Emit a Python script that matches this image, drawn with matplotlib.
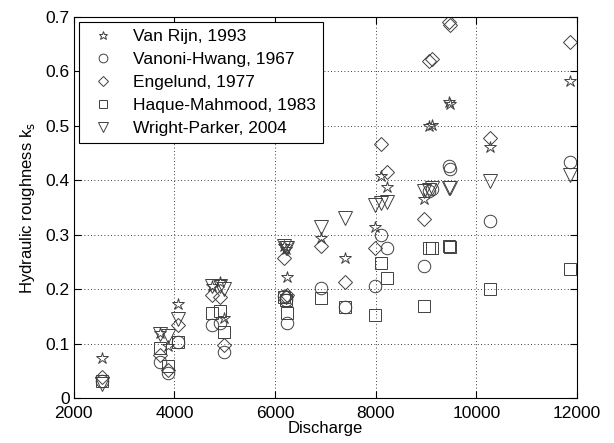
import matplotlib
matplotlib.use("Agg")
import matplotlib.pyplot as plt

plt.rcParams['font.family'] = ['Liberation Sans', 'DejaVu Sans']

# discharge of each measured event
discharge = [2560, 3720, 3880, 4080, 4750, 4910, 4990, 6180, 6210, 6240,
             6920, 7390, 7985, 8100, 8220, 8950, 9050, 9120, 9450, 9470,
             10270, 11860]

van_rijn = [0.073, 0.120, 0.095, 0.172, 0.205, 0.213, 0.147, 0.279, 0.274, 0.222,
            0.294, 0.257, 0.315, 0.408, 0.388, 0.365, 0.500, 0.502, 0.543, 0.540,
            0.462, 0.582]
vanoni_hwang = [0.032, 0.067, 0.045, 0.102, 0.134, 0.137, 0.085, 0.187, 0.180, 0.137,
                0.202, 0.168, 0.205, 0.300, 0.276, 0.242, 0.380, 0.384, 0.426, 0.420,
                0.325, 0.433]
engelund = [0.038, 0.079, 0.052, 0.134, 0.190, 0.186, 0.098, 0.257, 0.185, 0.190,
            0.279, 0.214, 0.276, 0.466, 0.415, 0.329, 0.620, 0.622, 0.691, 0.686,
            0.477, 0.654]
haque_mahmood = [0.032, 0.092, 0.058, 0.102, 0.156, 0.159, 0.122, 0.185, 0.180, 0.157,
                 0.184, 0.168, 0.153, 0.248, 0.220, 0.169, 0.276, 0.276, 0.279, 0.277,
                 0.200, 0.237]
wright_parker = [0.026, 0.118, 0.113, 0.145, 0.205, 0.206, 0.200, 0.280, 0.276, 0.275,
                 0.314, 0.331, 0.355, 0.359, 0.360, 0.380, 0.383, 0.385, 0.386, 0.386,
                 0.398, 0.410]

series = [
    ("Van Rijn, 1993", van_rijn, '*', 9),
    ("Vanoni-Hwang, 1967", vanoni_hwang, 'o', 9),
    ("Engelund, 1977", engelund, 'D', 7),
    ("Haque-Mahmood, 1983", haque_mahmood, 's', 8),
    ("Wright-Parker, 2004", wright_parker, 'v', 10),
]

fig = plt.figure(figsize=(6.14, 4.43), dpi=100)
ax = fig.add_axes([0.12, 0.1016, 0.82, 0.86])

for name, vals, m, ms in series:
    ax.plot(discharge, vals, linestyle='none', marker=m, markersize=ms,
            markerfacecolor='none', markeredgecolor='#404040',
            markeredgewidth=0.7, label=name)

ax.set_xlim(2000, 12000)
ax.set_ylim(0, 0.7)
ax.set_xticks([2000, 4000, 6000, 8000, 10000, 12000])
ax.set_yticks([0, 0.1, 0.2, 0.3, 0.4, 0.5, 0.6, 0.7])
ax.set_yticklabels(['0', '0.1', '0.2', '0.3', '0.4', '0.5', '0.6', '0.7'])
ax.grid(True, linestyle=(0, (1, 3)), color='black', linewidth=0.6)
ax.tick_params(direction='in', top=True, right=True, labelsize=12.5, length=5)
ax.tick_params(axis='x', pad=5.5)
ax.tick_params(axis='y', pad=3)
for s in ax.spines.values():
    s.set_linewidth(0.8)
ax.set_xlabel("Discharge", fontsize=12, labelpad=0)
ax.set_ylabel("Hydraulic roughness k$_\\mathrm{s}$", fontsize=12, labelpad=6)

leg = ax.legend(loc='upper left', fontsize=12.5, markerscale=0.7,
                fancybox=False, framealpha=1, edgecolor='black',
                borderaxespad=0.3, handletextpad=0.7, labelspacing=0.45,
                borderpad=0.4)
leg.get_frame().set_linewidth(0.8)

fig.savefig("out.png", dpi=100)
